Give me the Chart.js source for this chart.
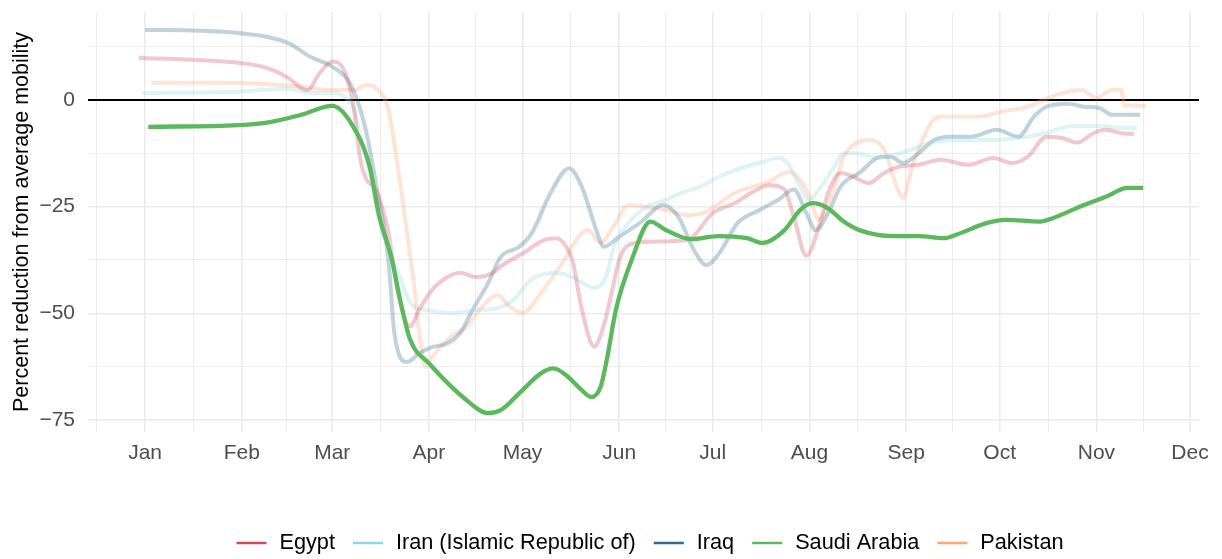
<!DOCTYPE html>
<html>
<head>
<meta charset="utf-8">
<script src="https://cdn.jsdelivr.net/npm/chart.js@4.4.1/dist/chart.umd.min.js"></script>
<style>
  html, body { margin: 0; padding: 0; background: #fff; }
  canvas { display: block; }
</style>
</head>
<body>
<canvas id="mobilityChart" width="1222" height="559"></canvas>
<script>
// day 0 = 1 Jan 2020
const monthLabels = ["Jan", "Feb", "Mar", "Apr", "May", "Jun", "Jul", "Aug", "Sep", "Oct", "Nov", "Dec"];
const monthStarts = [0, 31, 60, 91, 121, 152, 182, 213, 244, 274, 305, 335];
const yMajorTicks = [-75, -50, -25, 0];
const yMinorTicks = [-62.5, -37.5, -12.5, 12.5];

const countries = ["Egypt", "Iran (Islamic Republic of)", "Iraq", "Saudi Arabia", "Pakistan"];
const countryColors = ["#D1495B", "#8ED6E1", "#2E6B8C", "#5CB85C", "#FFA574"];

const egyptDays = [-2, 15, 30, 39, 46, 50, 52, 56, 60, 64, 67, 69, 71, 74, 78, 81, 85, 88, 92, 97, 101, 106, 112, 114, 121, 128, 132, 135, 137, 140, 144, 147, 150, 152, 155, 162, 171, 175, 182, 189, 195, 200, 205, 208, 212, 216, 219, 223, 227, 232, 237, 242, 248, 255, 264, 272, 278, 283, 289, 294, 299, 304, 308, 313, 317];
const egyptValues = [9.8, 9.4, 8.7, 7.5, 5.1, 2.8, 2.3, 6.3, 9, 6.6, -2.3, -14, -18.7, -21, -31, -45, -53, -49, -44.5, -41.5, -40.5, -41.5, -40.3, -39, -36, -32.8, -32.4, -34.4, -37.5, -49, -57.8, -53, -43.8, -37.5, -34, -33.2, -33, -32.4, -26.5, -24.2, -21.5, -20, -21, -27.4, -36.5, -29.8, -21.8, -17.1, -18, -19.5, -17.1, -15.6, -15.2, -14, -15.2, -13.6, -14.8, -13.3, -8.6, -8.9, -10, -7.8, -7, -7.8, -8];

const iranDays = [-1, 28, 46, 53, 60, 64, 67, 70, 72, 75, 79, 82, 85, 90, 98, 106, 113, 118, 124, 132, 137, 144, 148, 150, 155, 161, 167, 172, 178, 184, 191, 198, 203, 206, 210, 213, 216, 221, 224, 228, 235, 242, 248, 253, 264, 272, 283, 290, 297, 306, 313, 318];
const iranValues = [1.6, 1.9, 2.6, 1.6, 1.6, 0.7, -2.3, -11.7, -17, -28, -37, -42, -47.6, -49.2, -49.9, -49.2, -48.8, -46.9, -42, -40.5, -41.5, -44, -41, -35, -28.8, -25, -23.4, -21.8, -20.3, -18, -16, -14.5, -13.6, -14.8, -20.3, -23.4, -21, -15.6, -12.5, -12.5, -13.6, -12.5, -11, -9.8, -9.4, -9.4, -8.6, -7.5, -6.1, -6.1, -6.6, -6.6];

const iraqDays = [0, 18, 30, 39, 46, 53, 60, 65, 68, 71, 74, 78, 80, 84, 88, 92, 97, 101, 105, 110, 114, 120, 124, 130, 136, 140, 145, 147, 152, 159, 166, 171, 176, 180, 184, 190, 197, 203, 208, 212, 215, 219, 223, 229, 236, 239, 243, 248, 253, 258, 265, 273, 280, 285, 289, 296, 301, 306, 310, 319];
const iraqValues = [16.4, 16.2, 15.7, 14.8, 13.3, 10.1, 7.8, 4.7, 0, -7.8, -19.5, -37.5, -55, -61.4, -59.3, -57.9, -57, -54.6, -49.2, -42.9, -36.8, -34.4, -31.2, -21.8, -16, -20.3, -31.2, -34.4, -32.1, -28.6, -24.6, -27.4, -35.2, -38.7, -36, -28.8, -25.8, -23.4, -21, -26.5, -30.5, -26.5, -20.3, -17.1, -13.3, -13.3, -14.8, -12.5, -9.4, -8.6, -8.6, -7, -8.6, -3.9, -1.6, -0.9, -1.6, -1.9, -3.5, -3.5];

const saudiDays = [1, 30, 40, 50, 60, 66, 72, 75, 79, 82, 85, 91, 103, 110, 114, 120, 127, 131, 135, 140, 143, 146, 148, 151, 156, 162, 167, 175, 184, 193, 198, 205, 210, 214, 219, 224, 229, 240, 248, 256, 260, 270, 276, 287, 291, 301, 308, 315, 320];
const saudiValues = [-6.3, -5.9, -5.2, -3.5, -1.4, -5.4, -15.6, -27, -37, -47.6, -56.2, -61.7, -70.3, -73.4, -72.7, -68.7, -64, -62.9, -64.5, -68, -69.6, -67.3, -61, -49, -37.5, -28.5, -30.5, -32.6, -31.9, -32.4, -33.5, -30.5, -25.8, -24.2, -25.4, -28.5, -30.5, -31.9, -31.9, -32.4, -31.6, -28.8, -28.1, -28.5, -27.7, -24.6, -22.7, -20.6, -20.6];

const pakistanDays = [2, 28, 47, 60, 67, 71, 74, 78, 81, 84, 86, 88, 90, 92, 98, 103, 108, 113, 117, 121, 127, 133, 142, 146, 150, 155, 160, 167, 174, 180, 189, 195, 200, 206, 210, 213, 216, 220, 224, 228, 232, 237, 241, 243, 246, 252, 255, 261, 268, 274, 283, 288, 294, 300, 305, 310, 313, 314, 321];
const pakistanValues = [4, 4, 3.3, 2.3, 2.3, 3.5, 2.8, -2.3, -15.6, -31.2, -42, -55, -62.6, -60.2, -55.5, -53.2, -48.5, -45.7, -48.5, -49.9, -45.2, -39, -30.5, -33.5, -29.8, -24.6, -25, -25.8, -27, -26.2, -21.8, -20.3, -19.2, -16.9, -18.7, -22.7, -28.1, -22.7, -13.3, -10.1, -9.4, -11.7, -20.3, -23, -15.6, -5.4, -3.9, -3.9, -3.9, -2.8, -1.6, 0, 1.6, 2.3, 0.5, 2.3, 2.3, -1.2, -1.4];

const seriesDays = [egyptDays, iranDays, iraqDays, saudiDays, pakistanDays];
const seriesValues = [egyptValues, iranValues, iraqValues, saudiValues, pakistanValues];
const highlight = "Saudi Arabia";

const fontFamily = "'Liberation Sans', Arial, sans-serif";

function fade(hex, a) {
  const r = parseInt(hex.slice(1, 3), 16);
  const g = parseInt(hex.slice(3, 5), 16);
  const b = parseInt(hex.slice(5, 7), 16);
  return `rgba(${r},${g},${b},${a})`;
}

// minor x grid at midpoints between month starts (plus mid Dec 2019)
const xMinorTicks = [-15.5];
for (let i = 0; i < monthStarts.length - 1; i++) {
  xMinorTicks.push((monthStarts[i] + monthStarts[i + 1]) / 2);
}

const datasets = countries.map((name, i) => ({
  label: name,
  data: seriesDays[i].map((d, j) => ({ x: d, y: seriesValues[i][j] })),
  borderColor: name === highlight ? countryColors[i] : fade(countryColors[i], 0.3),
  borderWidth: name === highlight ? 4.3 : 4,
  pointRadius: 0,
  cubicInterpolationMode: "monotone",
  order: name === highlight ? 0 : 1,
}));

const bottomLegend = {
  id: "bottomLegend",
  afterDraw(chart) {
    const ctx = chart.ctx;
    const keyW = 30, keyGap = 13, itemGap = 18, centerX = 650, y = 543;
    ctx.save();
    ctx.font = `21.7px ${fontFamily}`;
    let total = 0;
    countries.forEach((name, i) => {
      total += keyW + keyGap + ctx.measureText(name).width;
      if (i < countries.length - 1) total += itemGap;
    });
    let x = centerX - total / 2;
    ctx.textBaseline = "middle";
    ctx.textAlign = "left";
    countries.forEach((name, i) => {
      ctx.strokeStyle = countryColors[i];
      ctx.lineWidth = 2.5;
      ctx.beginPath();
      ctx.moveTo(x, y);
      ctx.lineTo(x + keyW, y);
      ctx.stroke();
      x += keyW + keyGap;
      ctx.fillStyle = "#000";
      ctx.fillText(name, x, y);
      x += ctx.measureText(name).width + itemGap;
    });
    ctx.restore();
  },
};

const mobilityChart = new Chart(document.querySelector("#mobilityChart").getContext("2d"), {
  type: "line",
  data: { datasets: datasets },
  options: {
    responsive: false,
    animation: false,
    layout: {
      padding: { top: 12, right: 23, bottom: 0, left: 0 },
    },
    plugins: {
      legend: { display: false },
      tooltip: { enabled: false },
    },
    scales: {
      x: {
        type: "linear",
        min: -18.3,
        max: 337.9,
        afterBuildTicks: (scale) => {
          scale.ticks = monthStarts.concat(xMinorTicks).sort((a, b) => a - b).map((v) => ({ value: v }));
        },
        afterFit: (scale) => {
          scale.height = 127;
          scale.paddingLeft = 0;
          scale.paddingRight = 0;
        },
        ticks: {
          autoSkip: false,
          maxRotation: 0,
          padding: 9,
          color: "#4D4D4D",
          font: { family: fontFamily, size: 21 },
          callback: (value) => {
            const idx = monthStarts.indexOf(value);
            return idx >= 0 ? monthLabels[idx] : "";
          },
        },
        grid: {
          color: "#EBEBEB",
          lineWidth: (c) => (c.tick && monthStarts.includes(c.tick.value) ? 1.6 : 0.9),
          drawTicks: false,
        },
        border: { display: false },
      },
      y: {
        min: -77.8,
        max: 20.6,
        afterBuildTicks: (scale) => {
          scale.ticks = yMajorTicks.concat(yMinorTicks).sort((a, b) => a - b).map((v) => ({ value: v }));
        },
        afterFit: (scale) => {
          scale.width = 88;
          scale.paddingTop = 0;
          scale.paddingBottom = 0;
        },
        ticks: {
          padding: 13,
          color: "#4D4D4D",
          font: { family: fontFamily, size: 21 },
          callback: (value) => (yMajorTicks.includes(value) ? String(value).replace("-", "\u2212") : ""),
        },
        grid: {
          color: (c) => (c.tick && c.tick.value === 0 ? "#000000" : "#EBEBEB"),
          lineWidth: (c) => {
            if (!c.tick) return 1;
            if (c.tick.value === 0) return 2;
            return yMajorTicks.includes(c.tick.value) ? 1.6 : 0.9;
          },
          drawTicks: false,
        },
        border: { display: false },
        title: {
          display: true,
          text: "Percent reduction from average mobility",
          color: "#000",
          font: { family: fontFamily, size: 21.5 },
          padding: { top: 9, bottom: 0 },
        },
      },
    },
  },
  plugins: [bottomLegend],
});
</script>
</body>
</html>
